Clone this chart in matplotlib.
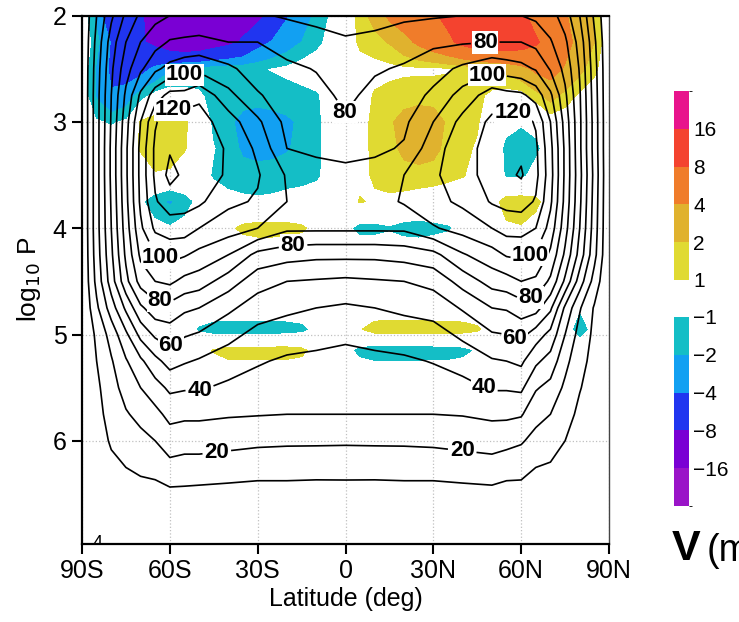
import matplotlib.pyplot as plt
import matplotlib.cm as cm
from matplotlib.colors import ListedColormap, BoundaryNorm
import numpy as np

plt.rcParams['font.family'] = ['Liberation Sans', 'DejaVu Sans']

# zonal wind (black contours), one vertical profile per latitude
lat_u = [-90, -85, -80, -75, -70, -65, -60, -55, -50, -40, -30, -20, -10, 0,
         10, 20, 30, 40, 50, 55, 60, 65, 70, 75, 80, 85, 90]
lev_u = [2.0, 2.25, 2.5, 2.75, 3.0, 3.25, 3.5, 3.75, 4.0, 4.25, 4.5, 4.75,
         5.0, 5.25, 5.5, 5.75, 6.0, 6.25, 6.5, 6.75, 7.0]
u_profiles = [
    [0] * 21,
    [20, 23, 25, 26, 26, 26, 26, 26, 26, 25, 23, 18, 12, 10, 8, 7, 6, 4, 2, 1, 0],
    [38, 45, 48, 50, 51, 52, 52, 51, 50, 48, 45, 35, 24, 19, 16, 13.5, 11, 8, 4, 2, 1],
    [52, 60, 66, 72, 76, 78, 78, 77, 75, 72, 67, 52, 38, 29, 24, 19, 14, 10, 5, 2, 1],
    [62, 70, 78, 92, 100, 103, 103, 102, 98, 92, 84, 68, 53, 38, 30, 23, 17, 12, 6, 2, 1],
    [67, 76, 88, 105, 119, 122, 122, 119, 112, 100, 90, 76, 62, 47, 36, 27, 20, 13, 6.5, 2.5, 1],
    [70, 81, 93, 113, 126, 129, 133, 125, 115, 103, 92, 76.5, 65, 54, 42, 33, 25, 17, 7.5, 3, 1],
    [71, 82, 96, 113, 126, 129, 128, 124, 115, 101, 87, 72, 61, 51, 41, 32, 24, 16, 7.5, 3, 1],
    [71, 83, 97, 118, 124, 125, 124, 122, 110, 97, 85, 70, 59, 49, 41, 32, 24, 16, 7, 3, 1],
    [70, 80, 92, 103, 115, 119, 119, 112, 105, 90, 75, 62, 53, 45, 38, 31, 23, 15, 6.5, 3, 1],
    [71, 80, 85, 91, 102, 108, 111, 109, 100, 77, 64, 55, 47, 41, 36, 30.5, 22, 14, 6, 3, 1],
    [69, 76, 82, 85, 87, 90, 99, 100, 92, 74, 60, 52, 45, 38.5, 34.5, 30, 21.5, 14, 6, 3, 1],
    [67, 74, 79.5, 83, 86, 88, 94, 96, 92, 72.5, 59, 50, 43, 38, 34, 30, 21.5, 13.5, 6, 3, 1],
    [65, 71.5, 75, 78, 81, 86.5, 93, 95, 92, 72.5, 58, 48.5, 41.5, 37.5, 33.5, 30, 21.3, 13.6, 6, 3, 1],
    [66, 73, 79, 82.5, 85, 88, 94, 96, 92, 72.5, 59, 50, 43, 38, 34, 30, 21.5, 13.5, 6, 3, 1],
    [68, 76, 81, 85, 88, 91, 100, 101, 92, 74, 60, 52, 45, 38.5, 34.5, 30, 21.5, 14, 6, 3, 1],
    [69, 78, 86, 92, 100, 106, 108, 107, 99, 77, 63, 54, 46, 40.5, 35.5, 30, 22, 14, 6, 3, 1],
    [70, 79, 92, 104, 113, 116, 117, 112, 104, 89, 74, 61, 52, 44, 37, 30.5, 23, 15, 6.5, 3, 1],
    [71, 80, 97, 115, 122, 124, 123, 121, 110, 96, 84, 70, 59, 49, 41, 32, 24, 16, 7, 3, 1],
    [71, 80, 95, 113, 124, 128, 128, 123, 114, 101, 86, 71, 60, 50, 41, 32, 23, 14, 6, 3, 1],
    [70, 80, 93, 112, 124, 128, 131, 124, 114, 102, 90, 75, 63, 52, 42, 31, 21, 14, 5.5, 3, 1],
    [68, 77, 89, 106, 119, 122, 123, 119, 110, 99, 88, 74, 55, 42, 31, 23, 17, 10, 5, 2.5, 1],
    [64, 71, 79, 92, 100, 103, 104, 102, 96, 88, 78, 62, 47, 36, 27, 20, 14, 9, 4.5, 2, 1],
    [55, 62, 67, 72, 76, 78, 78, 77, 74, 68, 58, 38, 30, 23, 18, 13.5, 10, 7, 4, 2, 1],
    [40, 46, 49, 51, 52, 52, 53, 52, 50, 46, 35, 21, 16, 13, 10.5, 8, 6, 4, 2.5, 1.5, 0.5],
    [18, 22, 24, 25, 26, 26, 27, 26, 25, 23, 16, 9, 8, 7, 6, 5, 4, 3, 2, 1, 0],
    [0] * 21,
]

# meridional wind difference (shaded), one row per level, 5 deg spacing
lat_v = list(range(-90, 91, 5))
lev_v = [2.0, 2.25, 2.5, 2.75, 3.0, 3.25, 3.5, 3.75, 4.0, 4.25, 4.75, 4.95, 5.15, 5.4, 7.0]
v_rows = [
    [0, -2.5, -6.5, -7.5, -7.5, -10, -13, -14, -13, -12, -11, -10, -9.2, -6.5, -4.2, -2.8, -1.7, -0.8, 0,
     1.5, 2.5, 4.5, 5.5, 6.5, 7.5, 9, 11, 12, 12, 11, 9, 6.5, 5, 4.2, 3, 1.8, 0],
    [0, -1.5, -4.2, -6, -7.5, -9, -11, -12, -11.5, -10, -9, -7.5, -5, -3.8, -2.8, -2.0, -1.3, -0.5, 0,
     1.3, 1.6, 2.1, 3.2, 4.5, 5.8, 7.2, 9, 10.5, 11, 10.5, 10, 8.5, 6.5, 4.8, 3.2, 2.0, 0],
    [0, -2.2, -4.5, -5.5, -5, -3.5, -2.3, -1.8, -1.6, -1.4, -1.2, -1.2, -1.1, -0.9, -0.7, -0.4, -0.2, 0, 0,
     0.4, 0.6, 0.7, 0.8, 0.8, 0.8, 0.9, 1.1, 1.4, 1.8, 2.4, 3.2, 4.5, 5.0, 3.8, 2.4, 1.3, 0],
    [0, -2.2, -3.8, -3.0, -1.4, -0.5, -0.3, -0.6, -0.8, -1.3, -1.5, -1.6, -1.6, -1.5, -1.4, -1.3, -1.1, -0.5, 0,
     0.5, 1.1, 1.3, 1.4, 1.5, 1.5, 1.4, 1.3, 1.2, 0.8, 0.5, 0.5, 1.5, 2.6, 1.6, 0.8, 0.3, 0],
    [0, -0.8, -1.1, -0.7, 1.1, 1.5, 1.6, 1.2, 0.2, -1.2, -1.8, -2.3, -2.5, -2.4, -2.2, -1.8, -1.2, -0.5, 0,
     0.7, 1.2, 1.8, 2.5, 2.8, 2.6, 1.8, 1.3, 1.1, 0.3, -0.5, -0.8, -0.6, 0.3, 0.3, 0, 0, 0],
    [0, 0, 0, 0.5, 1.1, 1.6, 1.6, 1.1, 0.3, -0.9, -1.5, -2.2, -2.4, -2.3, -2.1, -1.7, -1.2, -0.5, 0,
     0.7, 1.2, 1.6, 2.3, 2.6, 2.4, 1.6, 1.2, 0.9, 0.3, -1.3, -1.6, -1.2, -0.3, 0, 0, 0, 0],
    [0, 0, 0, 0, 0.4, 0.9, 0.8, 0.3, -0.3, -1.1, -1.5, -1.6, -1.6, -1.6, -1.5, -1.4, -1.2, -0.4, 0,
     0.6, 1.2, 1.4, 1.6, 1.6, 1.5, 1.3, 1.1, 0.5, 0, -1.1, -1.2, -0.5, 0, 0, 0, 0, 0],
    [0, 0, 0, 0, -0.7, -1.6, -2.2, -1.4, -0.6, -0.3, -0.5, -0.7, -0.8, -0.7, -0.5, -0.4, -0.2, 0, 0.3,
     1.1, 0.8, 0.8, 0.6, 0.4, 0.3, 0.2, 0, 0, 0.5, 1.5, 1.6, 1.3, 0.3, 0, 0, 0, 0],
    [0, 0, 0, 0, 0, -0.6, -0.8, -0.6, 0, 0.3, 0.7, 1.3, 1.5, 1.5, 1.4, 1.2, 0.6, 0, -0.6,
     -1.3, -1.3, -1.1, -1.4, -1.5, -1.3, -1.1, -0.5, 0, 0.3, 0.8, 0.9, 0.5, 0, 0, 0, 0, 0],
    [0] * 37,
    [0] * 34 + [-0.8, 0, 0],
    [0, 0, 0, 0, 0, 0, 0, -0.4, -1.1, -1.5, -1.6, -1.6, -1.6, -1.6, -1.5, -1.3, -0.5, 0, 0,
     0.9, 1.6, 1.7, 1.7, 1.7, 1.6, 1.6, 1.5, 1.2, 0.3, 0, 0, 0, 0, -0.3, -1.5, -0.5, 0],
    [0, 0, 0, 0, 0, 0, 0, 0, 0.5, 1.1, 1.5, 1.5, 1.5, 1.5, 1.5, 1.3, 0.5, 0, -0.5,
     -1.3, -1.6, -1.6, -1.6, -1.6, -1.5, -1.5, -1.3, -0.8, -0.2, 0, 0, 0, 0, 0, 0, 0, 0],
    [0] * 37,
    [0] * 37,
]

neg_levels = [-64, -16, -8, -4, -2, -1]
neg_colors = ['#9a14c8', '#7a00d4', '#2035f0', '#12a0f2', '#14bec6']
pos_levels = [1, 2, 4, 8, 16, 64]
pos_colors = ['#e0da32', '#e0b22e', '#f07c2a', '#f4432f', '#e8148c']

# contour label spots (lat, log10 P)
label_spots = [(-54.8, 2.58), (-58.9, 2.91), (-2.9, 2.96), (47.6, 2.21), (48.3, 2.56),
               (57.2, 2.91), (-64.0, 4.32), (-63.4, 4.68), (-58.9, 5.14), (-49.7, 5.53),
               (-43.9, 6.12), (-17.9, 4.18), (63.0, 4.25), (63.0, 4.61), (56.9, 5.09),
               (47.6, 5.48), (39.8, 6.11)]

U = np.array(u_profiles).T
V = np.array(v_rows)

fig = plt.figure(figsize=(7.39, 6.22), dpi=100)
ax = fig.add_axes([82 / 739, 1 - 544 / 622, 527 / 739, 528.5 / 622])

ax.contourf(lat_v, lev_v, V, levels=neg_levels, colors=neg_colors)
ax.contourf(lat_v, lev_v, V, levels=pos_levels, colors=pos_colors)
cs = ax.contour(lat_u, lev_u, U, levels=np.arange(10, 140, 10), colors='k', linewidths=1.2)
labels = ax.clabel(cs, manual=label_spots, fmt='%d', fontsize=16, inline=True, inline_spacing=2)
for t in labels:
    t.set_rotation(0)
    t.set_fontweight('bold')
    t.set_bbox(dict(boxstyle='square,pad=0.03', fc='white', ec='none'))

ax.set_xlim(-90, 90)
ax.set_ylim(6.97, 2)
ax.set_xticks([-90, -60, -30, 0, 30, 60, 90])
ax.set_xticklabels(['90S', '60S', '30S', '0', '30N', '60N', '90N'])
ax.set_yticks([2, 3, 4, 5, 6])
ax.grid(True, linestyle=':', color='#c0c0c0', linewidth=0.9)
ax.set_axisbelow(True)
ax.tick_params(direction='out', length=7, width=1.5, labelsize=18, pad=4, top=False, right=False)
for s in ['left', 'bottom', 'top']:
    ax.spines[s].set_linewidth(1.6)
ax.spines['right'].set_linewidth(1.0)
ax.spines['right'].set_color('#444444')

ax.text(-86.5, 6.97, '4', fontsize=13, ha='left', va='center', clip_on=True)

ax.set_xlabel('Latitude (deg)', fontsize=18)
ax.xaxis.set_label_coords(0.5, -0.082)
ax.set_ylabel('log$_{10}$ P', fontsize=19)
ax.yaxis.set_label_coords(-0.074, 0.5)

# two separate colour keys
cax_p = fig.add_axes([674 / 739, 1 - 280 / 622, 15 / 739, 189 / 622])
sm_p = cm.ScalarMappable(norm=BoundaryNorm(pos_levels, 5), cmap=ListedColormap(pos_colors))
cb_p = fig.colorbar(sm_p, cax=cax_p, ticks=pos_levels[:-1], spacing='uniform')
cb_p.ax.set_yticklabels(['1', '2', '4', '8', '16'])

cax_n = fig.add_axes([674 / 739, 1 - 506 / 622, 15 / 739, 189 / 622])
sm_n = cm.ScalarMappable(norm=BoundaryNorm(neg_levels, 5), cmap=ListedColormap(neg_colors))
cb_n = fig.colorbar(sm_n, cax=cax_n, ticks=neg_levels[1:], spacing='uniform')
cb_n.ax.set_yticklabels(['\u221216', '\u22128', '\u22124', '\u22122', '\u22121'])

for cb in (cb_p, cb_n):
    cb.outline.set_visible(False)
    cb.ax.tick_params(length=0, labelsize=15, pad=3)

fig.text(672 / 739, 1 - 560 / 622, 'V', fontsize=31, fontweight='bold', va='baseline')
fig.text(707 / 739, 1 - 561 / 622, '(m/s)', fontsize=27, va='baseline')

fig.savefig('out.png', dpi=100)
